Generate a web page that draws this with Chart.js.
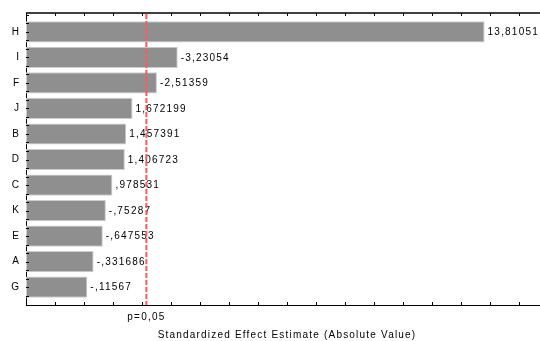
<!DOCTYPE html>
<html>
<head>
<meta charset="utf-8">
<script src="https://cdn.jsdelivr.net/npm/chart.js@4"></script>
<style>
  html, body { margin: 0; padding: 0; background: #fff; }
  #wrap { width: 540px; height: 341px; }
</style>
</head>
<body>
<div id="wrap"><canvas id="pareto" width="540" height="341"></canvas></div>
<script>
// Pareto chart of standardized effects
const FACTORS = ['H', 'I', 'F', 'J', 'B', 'D', 'C', 'K', 'E', 'A', 'G'];
const EFFECTS = [13.81051, -3.23054, -2.51359, 1.672199, 1.457391, 1.406723, 0.978531, -0.75287, -0.647553, -0.331686, -0.11567];
const EFFECT_LABELS = ['13,81051', '-3,23054', '-2,51359', '1,672199', '1,457391', '1,406723', ',978531', '-,75287', '-,647553', '-,331686', '-,11567'];
const P_CRIT = 2.15;
const P_LABEL = 'p=0,05';
const X_TITLE = 'Standardized Effect Estimate (Absolute Value)';
const X_MIN = -2;
const X_MAX = 15.72;

const FONT = '10px "Liberation Sans", Arial, sans-serif';

const overlay = {
    id: 'overlay',
    afterDatasetsDraw(chart) {
        const { ctx, chartArea: area, scales } = chart;
        const xs = scales.x, ys = scales.y;
        ctx.save();

        // top frame line
        ctx.strokeStyle = '#000';
        ctx.lineWidth = 1.5;
        ctx.beginPath();
        ctx.moveTo(area.left, area.top);
        ctx.lineTo(area.right, area.top);
        ctx.stroke();

        // inward tick marks
        ctx.lineWidth = 1;
        ctx.beginPath();
        for (let v = Math.ceil(X_MIN + 1); v <= X_MAX; v++) {
            const px = Math.round(xs.getPixelForValue(v)) + 0.5;
            ctx.moveTo(px, area.top);
            ctx.lineTo(px, area.top + 3);
            ctx.moveTo(px, area.bottom);
            ctx.lineTo(px, area.bottom - 3);
        }
        for (let k = -2; k <= FACTORS.length * 3; k++) {
            const py = Math.round(ys.getPixelForValue(k / 3 - 1 / 3)) + 0.5;
            if (py <= area.top + 2 || py >= area.bottom - 2) continue;
            ctx.moveTo(area.left, py);
            ctx.lineTo(area.left + 3, py);
        }
        ctx.stroke();

        // value labels
        ctx.font = FONT;
        ctx.letterSpacing = '1.2px';
        ctx.fillStyle = '#000';
        ctx.textAlign = 'left';
        ctx.textBaseline = 'middle';
        chart.getDatasetMeta(0).data.forEach((bar, i) => {
            ctx.fillText(EFFECT_LABELS[i], bar.x + 3, bar.y + 0.5);
        });

        // critical value line
        const pX = xs.getPixelForValue(P_CRIT);
        ctx.strokeStyle = '#ff5858';
        ctx.lineWidth = 2;
        ctx.setLineDash([5, 2]);
        ctx.beginPath();
        ctx.moveTo(pX, area.top + 1);
        ctx.lineTo(pX, area.bottom);
        ctx.stroke();
        ctx.setLineDash([]);

        // axis texts
        ctx.textAlign = 'center';
        ctx.fillText(P_LABEL, pX, 317);
        ctx.fillText(X_TITLE, 287, 335);
        ctx.restore();
    }
};

const ctx = document.getElementById('pareto').getContext('2d');

new Chart(ctx, {
    type: 'bar',
    data: {
        datasets: [{
            data: EFFECTS.map((v, i) => ({ x: Math.abs(v), y: i })),
            backgroundColor: '#8f8f8f',
            borderColor: '#cdcdcd',
            borderWidth: 1,
            borderSkipped: false,
            base: X_MIN,
            barPercentage: 0.83,
            categoryPercentage: 1
        }]
    },
    options: {
        indexAxis: 'y',
        responsive: false,
        animation: false,
        layout: { padding: { top: 12, right: 0, left: 0, bottom: 0 } },
        plugins: {
            legend: { display: false },
            tooltip: { enabled: false }
        },
        scales: {
            x: {
                type: 'linear',
                min: X_MIN,
                max: X_MAX,
                grid: { display: false, drawTicks: false },
                border: { display: true, color: '#000', width: 1 },
                ticks: { display: false },
                afterFit: (s) => { s.height = 36; }
            },
            y: {
                type: 'linear',
                reverse: true,
                offset: false,
                min: -0.74,
                max: 10.70,
                grid: { display: false, drawTicks: false, offset: false },
                border: { display: true, color: '#000', width: 1 },
                ticks: {
                    stepSize: 1,
                    autoSkip: false,
                    color: '#000',
                    padding: 7,
                    font: { family: '"Liberation Sans", Arial, sans-serif', size: 10 },
                    callback: (v) => FACTORS[v]
                },
                afterBuildTicks: (s) => { s.ticks = s.ticks.filter(t => Number.isInteger(t.value)); },
                afterFit: (s) => { s.width = 26; }
            }
        }
    },
    plugins: [overlay]
});
</script>
</body>
</html>
